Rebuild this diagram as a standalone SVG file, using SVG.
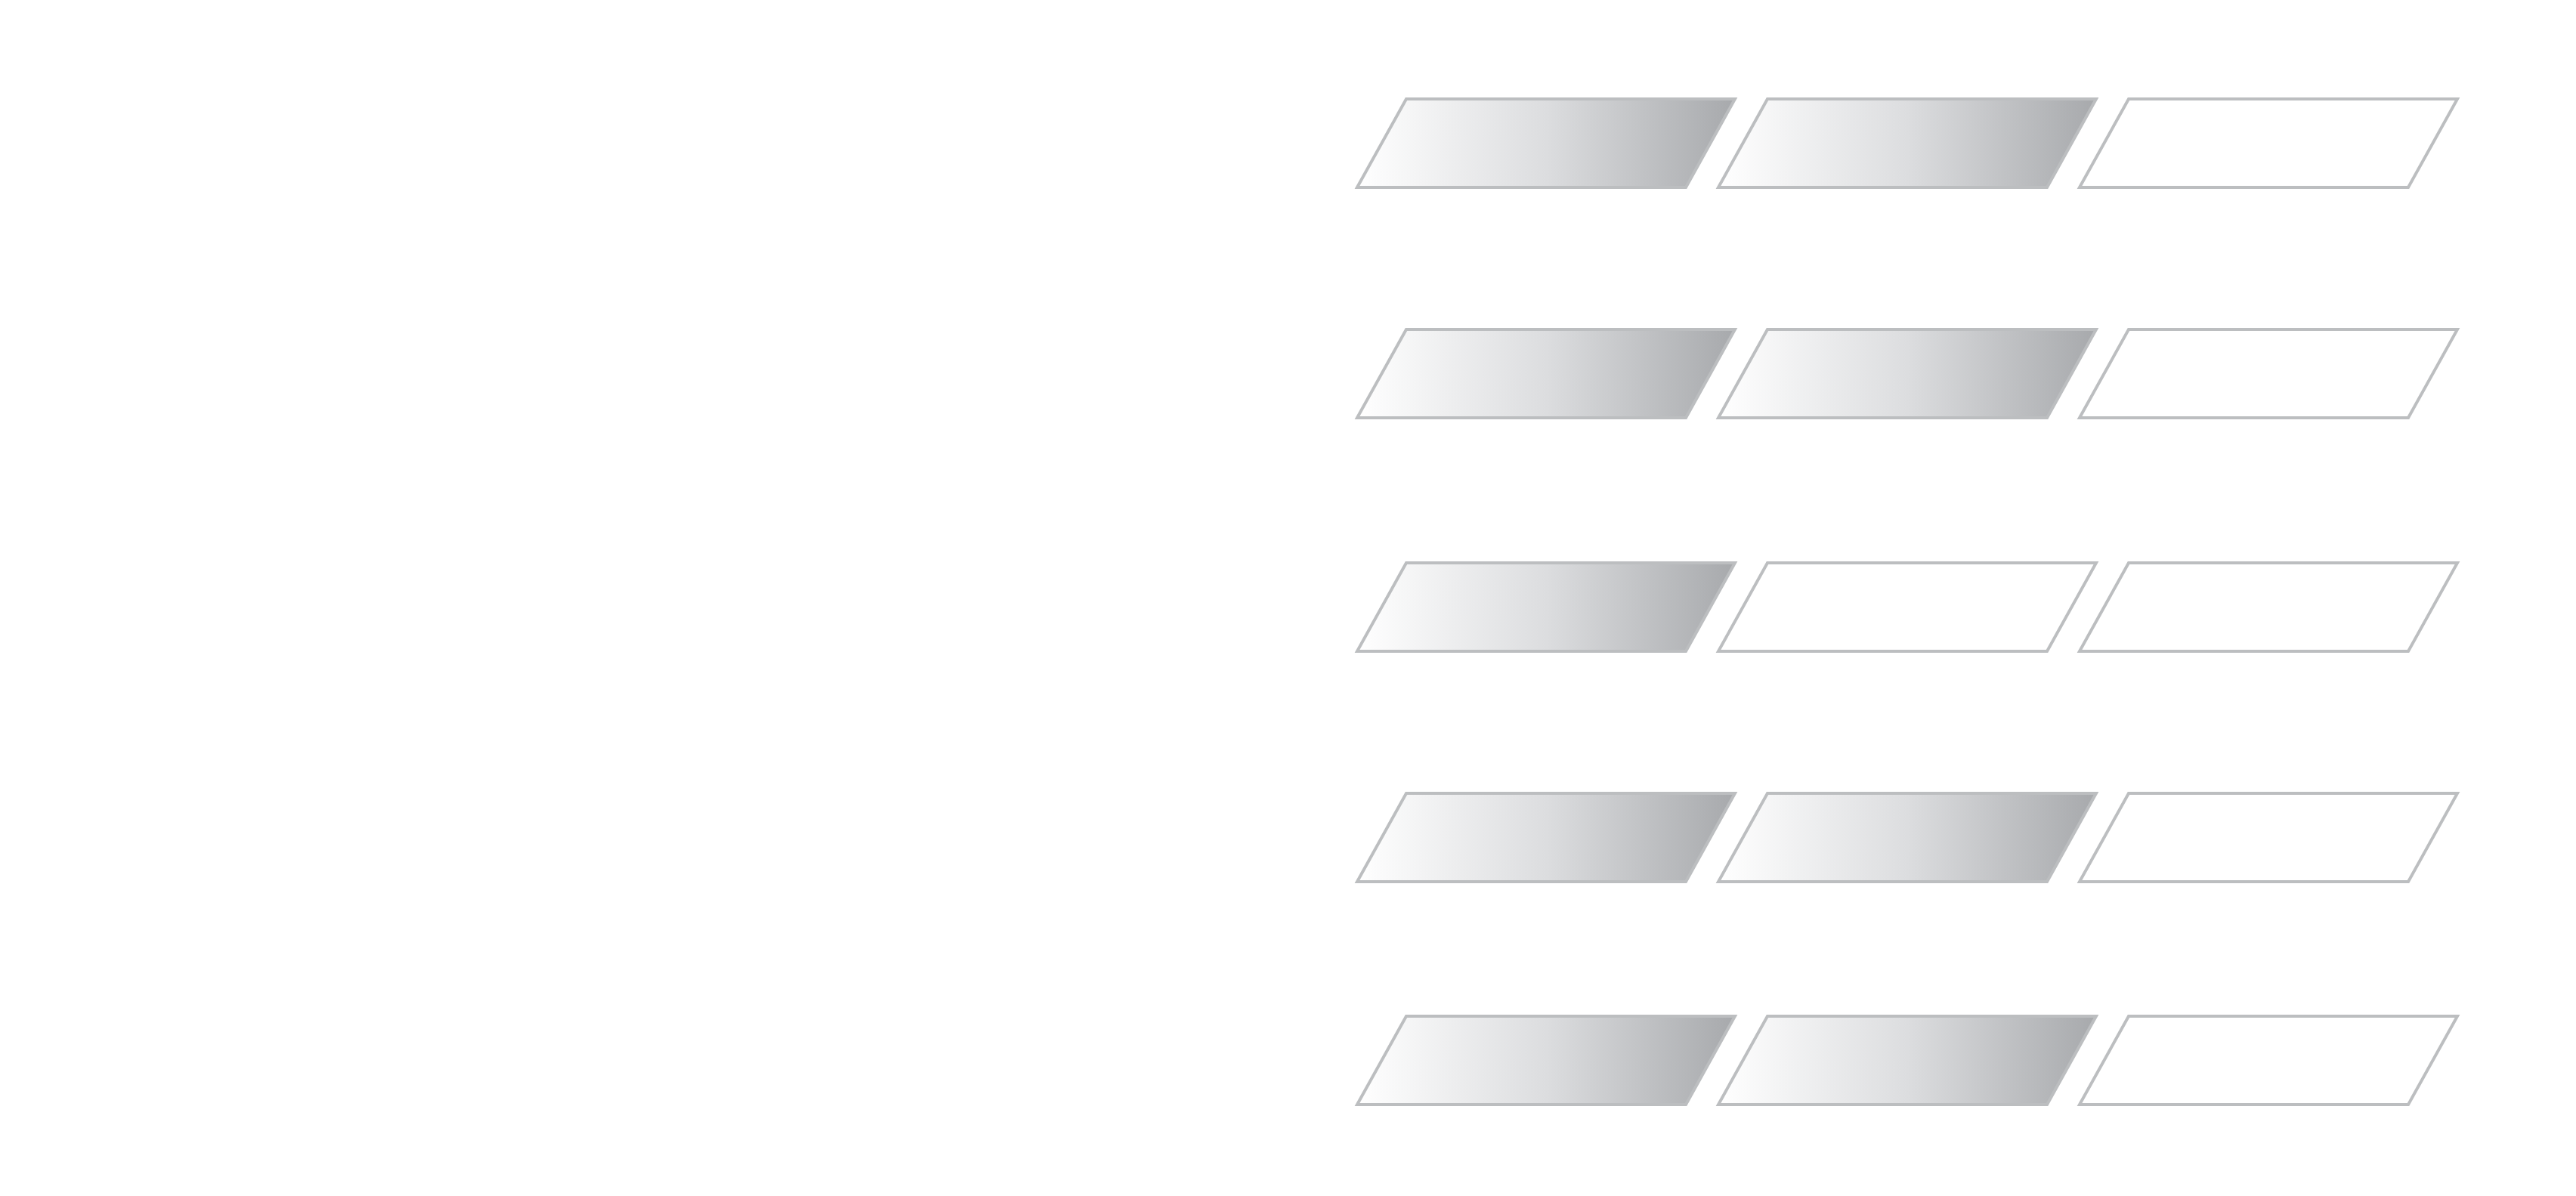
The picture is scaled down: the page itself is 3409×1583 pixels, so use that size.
<svg xmlns="http://www.w3.org/2000/svg" width="3409" height="1583" viewBox="0 0 3409 1583">
<defs>
<linearGradient id="g" x1="0" y1="0" x2="1" y2="0">
<stop offset="0" stop-color="#ffffff"/><stop offset="0.5" stop-color="#dcdddf"/><stop offset="1" stop-color="#a7a9ac"/>
</linearGradient>
<polygon id="p" points="65,0 500,0 435,117 0,117"/>
</defs>
<style>.f{fill:url(#g);stroke:#bcbec0;stroke-width:4}.e{fill:#fff;stroke:#bcbec0;stroke-width:4}</style>
<rect width="3409" height="1583" fill="#fff"/>
<g id="r1"><use href="#p" class="f" x="1796" y="131"/><use href="#p" class="f" x="2274" y="131"/><use href="#p" class="e" x="2752" y="131"/></g>
<g id="r2"><use href="#p" class="f" x="1796" y="436"/><use href="#p" class="f" x="2274" y="436"/><use href="#p" class="e" x="2752" y="436"/></g>
<g id="r3"><use href="#p" class="f" x="1796" y="745"/><use href="#p" class="e" x="2274" y="745"/><use href="#p" class="e" x="2752" y="745"/></g>
<g id="r4"><use href="#p" class="f" x="1796" y="1050"/><use href="#p" class="f" x="2274" y="1050"/><use href="#p" class="e" x="2752" y="1050"/></g>
<g id="r5"><use href="#p" class="f" x="1796" y="1345"/><use href="#p" class="f" x="2274" y="1345"/><use href="#p" class="e" x="2752" y="1345"/></g>
<g id="connectors"/>
</svg>
